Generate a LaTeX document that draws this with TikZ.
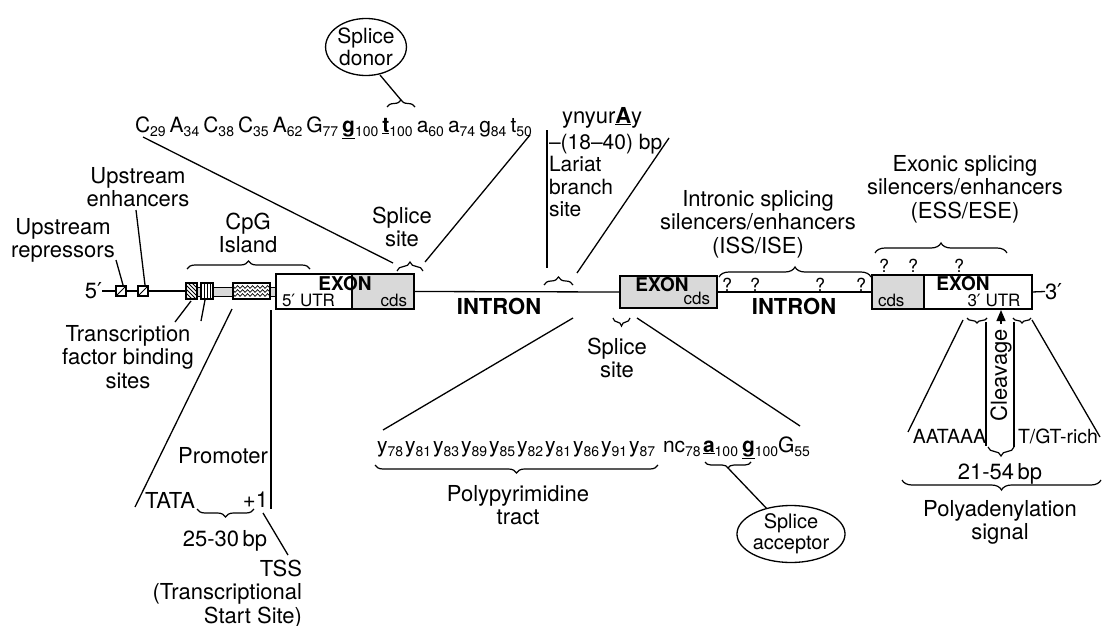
\documentclass[tikz,border=0pt]{standalone}
\usepackage{fontspec}
\setmainfont{TeX Gyre Heros}
\newfontfamily\djv{DejaVu Sans}
\usetikzlibrary{decorations.pathreplacing,decorations.pathmorphing,shapes.geometric,arrows.meta}
\newcommand{\prm}{{\djv\char"2032}}
\newcommand{\sbs}[1]{\raisebox{-4.5pt}{\fontsize{14}{14}\selectfont #1}}
\newcommand{\sbt}[1]{\raisebox{-4pt}{\fontsize{14}{14}\selectfont #1}}
\newcommand{\gp}{\hspace{4pt}}
\definecolor{cdsgray}{gray}{0.85}
\begin{document}
\begin{tikzpicture}[x=1pt,y=-1pt,
  every node/.style={inner sep=0pt,outer sep=0pt},
  lbl/.style={font=\fontsize{22}{23.5}\selectfont,align=center},
  seqtxt/.style={font=\fontsize{21}{22}\selectfont,anchor=base west},
  seqlow/.style={font=\fontsize{21}{22}\selectfont,anchor=base west},
  smalltxt/.style={font=\fontsize{17}{18}\selectfont},
  qm/.style={font=\fontsize{18}{18}\selectfont},
  exonlbl/.style={font=\fontsize{19}{20}\selectfont\bfseries},
  intronlbl/.style={font=\fontsize{22}{23}\selectfont\bfseries},
  ln/.style={line width=1.3pt},
  boxline/.style={draw,line width=1.8pt},
  brc/.style={decorate,decoration={brace,amplitude=#1},line width=1.2pt},
  brc/.default=8pt,
  bubble/.style={ellipse,draw,line width=1.3pt,align=center},
  sqbox/.style={draw,line width=1.6pt,fill=white,minimum width=10pt,minimum height=10pt,
    path picture={\draw[line width=1pt] (path picture bounding box.south west) -- (path picture bounding box.north east);}},
]
\useasboundingbox (0,0) rectangle (1103,626);
\fill[white] (0,0) rectangle (1103,626);

% ---------------- backbone, promoter region ----------------
\node[lbl,anchor=east] (t5) at (102,291) {5\prm};
\node[sqbox] (r1) at (121,291) {};
\node[sqbox] (r2) at (143,291) {};
\coordinate (bandL) at (195,287);
\coordinate (bandR) at (276,296);
\draw[line width=1pt,fill=cdsgray] (bandL) rectangle (bandR);
\node[draw,line width=1.6pt,fill=white,minimum width=11pt,minimum height=16pt,
  path picture={\foreach \i in {-14,-10,...,10}{\draw[line width=0.8pt] ([xshift=\i pt]path picture bounding box.north west) -- ++(16pt,-16pt);}}] (tf1) at (191.5,291) {};
\node[draw,line width=1.6pt,fill=white,minimum width=12pt,minimum height=16pt,
  path picture={\foreach \i in {3,6,9}{\draw[line width=0.8pt] ([xshift=\i pt]path picture bounding box.north west) -- ([xshift=\i pt]path picture bounding box.south west);}}] (tf2) at (207,291) {};
\node[draw,line width=1.8pt,fill=white,minimum width=37pt,minimum height=16pt,
  path picture={\foreach \yy in {-4,0,4}{\draw[line width=0.7pt,decorate,decoration={snake,amplitude=1.4pt,segment length=5pt}] ([yshift=\yy pt,xshift=-2pt]path picture bounding box.west) -- ([yshift=\yy pt,xshift=2pt]path picture bounding box.east);}}] (cpgbox) at (251.5,291) {};
\draw[ln] (t5.east) -- (r1.west) (r1.east) -- (r2.west) (r2.east) -- (tf1.west);

% ---------------- exons ----------------
\node[boxline,fill=white,minimum width=76pt,minimum height=35pt] (ex1u) at (314,291.5) {};
\node[boxline,fill=cdsgray,minimum width=62pt,minimum height=35pt] (ex1c) at (383,291.5) {};
\node[boxline,fill=cdsgray,minimum width=97pt,minimum height=32pt] (ex2) at (668.5,292) {};
\node[boxline,fill=cdsgray,minimum width=52pt,minimum height=34pt] (ex3c) at (898,292) {};
\node[boxline,fill=white,minimum width=108pt,minimum height=34pt] (ex3u) at (978,292) {};
\node[lbl,anchor=west] (t3) at (1045,291.5) {3\prm};
\draw[ln] (ex1c.east) -- (ex2.west);
\draw[ln] (ex2.east) -- (ex3c.west);
\draw[ln] (ex3u.east) -- (t3.west);

\node[exonlbl] (ex1t) at (345,284) {EXON};
\node[smalltxt,anchor=base west] (utr5) at (282,306) {5\prm\ UTR};
\node[smalltxt,anchor=base east] (cds1) at (407,306) {cds};
\node[exonlbl] (ex2t) at (662,284.5) {EXON};
\node[smalltxt,anchor=base east] (cds2) at (710,304) {cds};
\node[exonlbl] (ex3t) at (963,284) {EXON};
\node[smalltxt,anchor=base west] (cds3) at (878,306) {cds};
\node[smalltxt,anchor=base] (utr3) at (994,306) {3\prm\ UTR};
\node[intronlbl] (in1) at (499,306) {INTRON};
\node[intronlbl] (in2) at (794,306) {INTRON};

% ---------------- left labels ----------------
\node[lbl,anchor=north] (rep) at (63,218) {Upstream\\repressors};
\node[lbl,anchor=north] (enh) at (138,167) {Upstream\\enhancers};
\node[lbl,anchor=north] (cpg) at (248,213) {CpG\\Island};
\node[lbl,anchor=north] (tfbs) at (128,325) {Transcription\\factor binding\\sites};
\coordinate (repA) at (116,260); \coordinate (repB) at (123,285);
\coordinate (enhA) at (136,210); \coordinate (enhB) at (145,285);
\draw[ln] (repA) -- (repB);
\draw[ln] (enhA) -- (enhB);
\coordinate (cpgL) at (187,269); \coordinate (cpgR) at (310,269);
\draw[brc=8pt] (cpgL) -- (cpgR);
\coordinate (tfA1) at (175,322); \coordinate (tfB1) at (191,301);
\coordinate (tfA2) at (201,321); \coordinate (tfB2) at (205,300);
\draw[ln] (tfA1) -- (tfB1);
\draw[ln] (tfA2) -- (tfB2);

% promoter
\coordinate (proA) at (232,309); \coordinate (proB) at (135,507);
\draw[ln] (proA) -- (proB);
\coordinate (tssA) at (271,310); \coordinate (tssB) at (271,509);
\draw[ln] (tssA) -- (tssB);
\node[lbl,anchor=north east] (prom) at (268,447) {Promoter};
\node[lbl,anchor=north west] (tata) at (145,492) {TATA};
\node[lbl,anchor=north east] (plus1) at (268,492) {+1};
\coordinate (tbR) at (254,509); \coordinate (tbL) at (197,509);
\draw[brc=8pt] (tbR) -- (tbL);
\node[lbl,anchor=north] (bp2530) at (225,530) {25-30\,bp};
\coordinate (tsA) at (263,513); \coordinate (tsB) at (288,555);
\draw[ln] (tsA) -- (tsB);
\node[lbl,anchor=north east,align=right] (tss) at (302,560) {TSS\\(Transcriptional\\Start Site)};

% ---------------- splice donor ----------------
\node[seqtxt] (topseq) at (135,132) {C\sbs{29}\gp A\sbs{34}\gp C\sbs{38}\gp C\sbs{35}\gp A\sbs{62}\gp G\sbs{77}\gp \underline{\textbf{g}}\sbs{100}\gp \underline{\textbf{t}}\sbs{100}\gp a\sbs{60}\gp a\sbs{74}\gp g\sbs{84}\gp t\sbs{50}};
\node[bubble,minimum width=78pt,minimum height=57pt,font=\fontsize{21}{22}\selectfont] (donor) at (366,47) {Splice\\donor};
\coordinate (dbL) at (387,107); \coordinate (dbR) at (415,107); \coordinate (dbT) at (401,100);
\draw[brc=7pt] (dbL) -- (dbR);
\coordinate (donA) at (380,75);
\draw[ln] (donA) -- (dbT);
\coordinate (ss1L) at (397,271); \coordinate (ss1R) at (423,271);
\draw[brc=9pt] (ss1L) -- (ss1R);
\node[lbl,anchor=north] (ss1) at (402,207) {Splice\\site};
\coordinate (sqA) at (143,137); \coordinate (sqB) at (393,263);
\coordinate (sqC) at (530,135); \coordinate (sqD) at (425,262);
\draw[ln] (sqA) -- (sqB);
\draw[ln] (sqC) -- (sqD);

% ---------------- lariat ----------------
\node[lbl,anchor=north west] (ynyur) at (562,107) {ynyur\underline{\textbf{A}}y};
\node[lbl,anchor=north west,align=left,font=\fontsize{21}{22.5}\selectfont] (lariat) at (549,134) {--(18--40) bp\\Lariat\\branch\\site};
\coordinate (lvA) at (547,130); \coordinate (lvB) at (547,268);
\draw[ln] (lvA) -- (lvB);
\coordinate (lbL) at (544,285); \coordinate (lbR) at (573,285);
\draw[brc=8pt] (lbL) -- (lbR);
\coordinate (ldA) at (669,138); \coordinate (ldB) at (577,273);
\draw[ln] (ldA) -- (ldB);

% ---------------- splice acceptor ----------------
\coordinate (ss2R) at (630,318); \coordinate (ss2L) at (613,318);
\draw[brc=8pt] (ss2R) -- (ss2L);
\node[lbl,anchor=north] (ss2) at (617,338) {Splice\\site};
\coordinate (baA) at (573,318); \coordinate (baB) at (383,430);
\coordinate (bbA) at (637,318); \coordinate (bbB) at (800,426);
\draw[ln] (baA) -- (baB);
\draw[ln] (bbA) -- (bbB);
\node[seqlow] (y1) at (377,452) {y\sbt{78}};
\node[seqlow] (y2) at (405,452) {y\sbt{81}};
\node[seqlow] (y3) at (433,452) {y\sbt{83}};
\node[seqlow] (y4) at (461,452) {y\sbt{89}};
\node[seqlow] (y5) at (489,452) {y\sbt{85}};
\node[seqlow] (y6) at (517,452) {y\sbt{82}};
\node[seqlow] (y7) at (545,452) {y\sbt{81}};
\node[seqlow] (y8) at (573,452) {y\sbt{86}};
\node[seqlow] (y9) at (601,452) {y\sbt{91}};
\node[seqlow] (y10) at (629,452) {y\sbt{87}};
\node[seqlow] (nc) at (663,452) {nc\sbt{78}};
\node[seqlow] (a100) at (703,452) {\underline{\textbf{a}}\sbt{100}};
\node[seqlow] (g100) at (742,452) {\underline{\textbf{g}}\sbt{100}};
\node[seqlow] (g55) at (778,452) {G\sbt{55}};
\coordinate (ppR) at (658,465); \coordinate (ppL) at (375,465);
\draw[brc=8pt] (ppR) -- (ppL);
\node[lbl,anchor=north] (ppt) at (518,485) {Polypyrimidine\\tract};
\coordinate (agR) at (751,462); \coordinate (agL) at (705,462); \coordinate (agT) at (728,468);
\draw[brc=6pt] (agR) -- (agL);
\node[bubble,minimum width=78pt,minimum height=57pt,font=\fontsize{20}{21}\selectfont] (acceptor) at (791,534) {Splice\\acceptor};
\draw[ln] (agT) -- (acceptor);

% ---------------- ISS / ESS ----------------
\coordinate (issL) at (719,277); \coordinate (issR) at (871,277);
\draw[brc=10pt] (issL) -- (issR);
\node[lbl,anchor=north] (iss) at (758,190) {Intronic splicing\\silencers/enhancers\\(ISS/ISE)};
\node[qm] (q1) at (727,284.5) {?};
\node[qm] (q2) at (755,284.5) {?};
\node[qm] (q3) at (820,284.5) {?};
\node[qm] (q4) at (861,284.5) {?};
\coordinate (essL) at (875,253); \coordinate (essR) at (1007,253);
\draw[brc=10pt] (essL) -- (essR);
\node[lbl,anchor=north] (ess) at (965,155) {Exonic splicing\\silencers/enhancers\\(ESS/ESE)};
\node[qm] (q5) at (884,266) {?};
\node[qm] (q6) at (913,266) {?};
\node[qm] (q7) at (959,266) {?};

% ---------------- polyadenylation ----------------
\coordinate (paR1) at (987,318); \coordinate (paL1) at (967,318);
\draw[brc=5pt] (paR1) -- (paL1);
\coordinate (paR2) at (1031,318); \coordinate (paL2) at (1013,318);
\draw[brc=5pt] (paR2) -- (paL2);
\coordinate (pdA) at (963,320); \coordinate (pdB) at (908,432);
\coordinate (pdC) at (1032,320); \coordinate (pdD) at (1100,437);
\draw[ln] (pdA) -- (pdB);
\draw[ln] (pdC) -- (pdD);
\coordinate (clA) at (986,322); \coordinate (clB) at (986,446);
\coordinate (clC) at (1014,322); \coordinate (clD) at (1014,447);
\draw[ln] (clA) -- (clB);
\draw[ln] (clC) -- (clD);
\coordinate (arA) at (1001,324); \coordinate (arB) at (1001,310);
\draw[line width=1.3pt,-{Triangle[length=11pt,width=9pt]}] (arA) -- (arB);
\node[lbl,rotate=90] (cleave) at (1001,375) {Cleavage};
\node[lbl,anchor=north east,font=\fontsize{19.5}{21}\selectfont] (aataaa) at (986,429) {AATAAA};
\node[lbl,anchor=north west,font=\fontsize{19.5}{21}\selectfont] (tgt) at (1018,429) {T/GT-rich};
\coordinate (cbR) at (1014,447); \coordinate (cbL) at (988,447);
\draw[brc=9pt] (cbR) -- (cbL);
\node[lbl,anchor=north] (bp2154) at (1000,463) {21-54\,bp};
\coordinate (pbR) at (1101,480); \coordinate (pbL) at (902,480);
\draw[brc=10pt] (pbR) -- (pbL);
\node[lbl,anchor=north] (polya) at (1000,500) {Polyadenylation\\signal};
\end{tikzpicture}
\end{document}
